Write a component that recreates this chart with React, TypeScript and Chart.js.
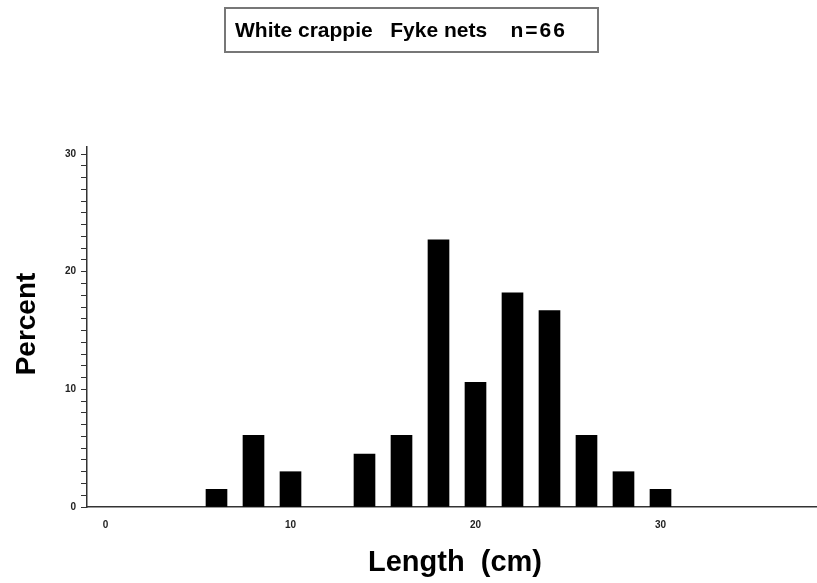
import React, { useEffect, useRef } from "react";
import { Chart, registerables } from "chart.js";

Chart.register(...registerables);

const titleMain = "White crappie   Fyke nets    ";
const titleCount = "n=66";
const xAxisTitle = "Length  (cm)";
const yAxisTitle = "Percent";

const lengths = [6, 8, 10, 14, 16, 18, 20, 22, 24, 26, 28, 30];
const percents = [1.5, 6.1, 3.0, 4.5, 6.1, 22.7, 10.6, 18.2, 16.7, 6.1, 3.0, 1.5];

const xTickValues = [0, 10, 20, 30];
const yTickValues = Array.from({ length: 31 }, (_, i) => i);
const yLabelled = [0, 10, 20, 30];

const FONT = '"Liberation Sans", Arial, Helvetica, sans-serif';

const axisTitlePlugin = {
  id: "axisTitles",
  afterDraw(chart: any) {
    const ctx = chart.ctx;
    ctx.save();
    ctx.fillStyle = "#000";
    ctx.font = `bold 29px ${FONT}`;
    ctx.textAlign = "center";
    ctx.textBaseline = "alphabetic";
    ctx.fillText(xAxisTitle, 455, 571);
    ctx.font = `bold 28px ${FONT}`;
    ctx.translate(35, 324);
    ctx.rotate(-Math.PI / 2);
    ctx.fillText(yAxisTitle, 0, 0);
    ctx.restore();
  },
};

export default function App() {
  const ref = useRef<HTMLCanvasElement | null>(null);

  useEffect(() => {
    if (!ref.current) return;
    const chart = new Chart(ref.current, {
      type: "bar",
      data: {
        datasets: [
          {
            label: "Percent",
            data: lengths.map((x, i) => ({ x, y: percents[i] })),
            backgroundColor: "#000",
            borderWidth: 0,
            barThickness: 21,
          },
        ],
      },
      options: {
        animation: false,
        responsive: false,
        events: [],
        layout: { padding: { top: 147, left: 0, right: 0, bottom: 0 } },
        plugins: {
          legend: { display: false },
          tooltip: { enabled: false },
          title: { display: false },
        },
        scales: {
          x: {
            type: "linear",
            min: -1,
            max: 38.46,
            offset: false,
            afterBuildTicks: (scale: any) => {
              scale.ticks = xTickValues.map((v) => ({ value: v }));
            },
            afterFit: (scale: any) => {
              scale.height = 76;
            },
            grid: { display: false, drawOnChartArea: false, drawTicks: false },
            border: { display: true, color: "#333", width: 1.5 },
            ticks: {
              autoSkip: false,
              maxRotation: 0,
              padding: 12,
              color: "#222",
              font: { family: FONT, size: 10, weight: "bold" },
              callback: (v: any) => String(v),
            },
          },
          y: {
            type: "linear",
            min: 0,
            max: 30.6,
            afterBuildTicks: (scale: any) => {
              scale.ticks = yTickValues.map((v) => ({ value: v }));
            },
            afterFit: (scale: any) => {
              scale.width = 87;
            },
            grid: {
              display: true,
              drawOnChartArea: false,
              drawTicks: true,
              tickLength: 6,
              color: "#333",
            },
            border: { display: true, color: "#333", width: 1.5 },
            ticks: {
              autoSkip: false,
              padding: 5,
              color: "#222",
              font: { family: FONT, size: 10, weight: "bold" },
              callback: (v: any) => (yLabelled.includes(Number(v)) ? String(v) : ""),
            },
          },
        },
      },
      plugins: [axisTitlePlugin],
    } as any);
    return () => chart.destroy();
  }, []);

  return (
    <div
      style={{
        position: "fixed",
        left: 0,
        top: 0,
        width: 817,
        height: 583,
        background: "#fff",
      }}
    >
      <canvas ref={ref} width={817} height={583} style={{ position: "absolute", left: 0, top: 0 }} />
      <div
        style={{
          position: "absolute",
          left: 224,
          top: 7,
          width: 375,
          height: 46,
          boxSizing: "border-box",
          border: "2px solid #777",
          fontFamily: FONT,
          fontWeight: "bold",
          fontSize: 21,
          lineHeight: "42px",
          paddingLeft: 9,
          whiteSpace: "pre",
          color: "#000",
        }}
      >
        {titleMain}
        <span style={{ letterSpacing: "2px" }}>{titleCount}</span>
      </div>
    </div>
  );
}
